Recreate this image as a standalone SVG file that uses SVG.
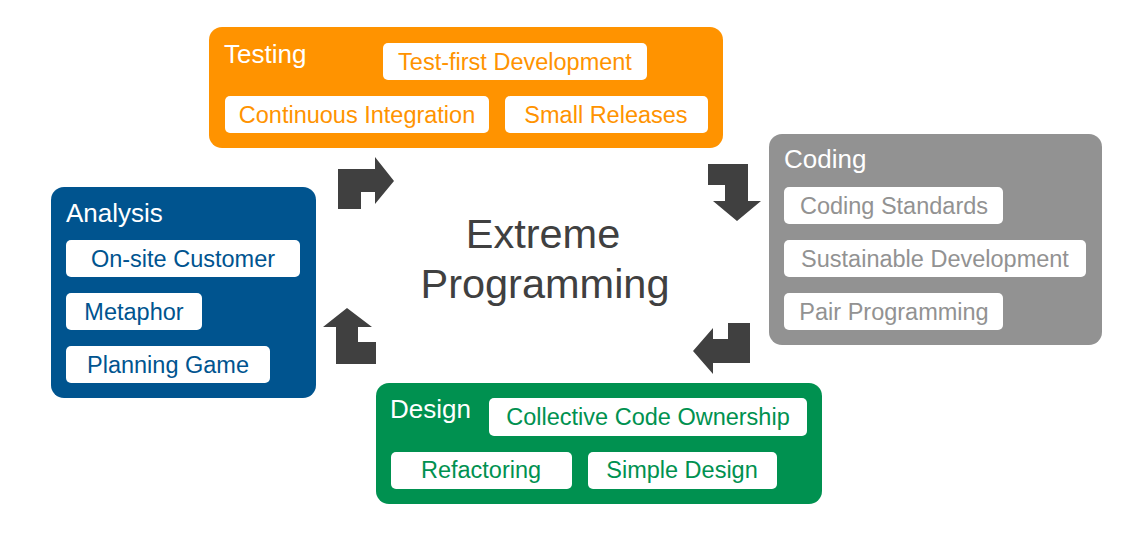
<svg xmlns="http://www.w3.org/2000/svg" width="1145" height="550" viewBox="0 0 1145 550">
<style>
text{font-family:"Liberation Sans",Arial,sans-serif}
.pill{fill:#ffffff}
.title{fill:#ffffff;font-size:26px}
.item{font-size:23.5px;text-anchor:middle}
.arrow{fill:#404040}
.center{fill:#404040;font-size:41.5px;text-anchor:middle}
</style>
<rect width="1145" height="550" fill="#ffffff"/>
<g id="testing">
<rect x="209" y="27" width="514" height="121" rx="13" fill="#ff9300"/>
<text class="title" x="224" y="63">Testing</text>
<rect class="pill" x="383" y="43" width="264" height="37" rx="5"/>
<text class="item" x="515" y="70" fill="#ff9300">Test-first Development</text>
<rect class="pill" x="225" y="96" width="264" height="37" rx="5"/>
<text class="item" x="357" y="123" fill="#ff9300">Continuous Integration</text>
<rect class="pill" x="505" y="96" width="203" height="37" rx="5"/>
<text class="item" x="606" y="123" fill="#ff9300">Small Releases</text>
</g>
<g id="coding">
<rect x="769" y="134" width="333" height="211" rx="13" fill="#929292"/>
<text class="title" x="784" y="168">Coding</text>
<rect class="pill" x="784" y="187" width="219" height="37" rx="5"/>
<text class="item" x="894" y="214" fill="#929292">Coding Standards</text>
<rect class="pill" x="784" y="240" width="302" height="37" rx="5"/>
<text class="item" x="935" y="267" fill="#929292">Sustainable Development</text>
<rect class="pill" x="784" y="293" width="219" height="37" rx="5"/>
<text class="item" x="894" y="320" fill="#929292">Pair Programming</text>
</g>
<g id="design">
<rect x="376" y="383" width="446" height="121" rx="13" fill="#009150"/>
<text class="title" x="390" y="418">Design</text>
<rect class="pill" x="489" y="398" width="318" height="38" rx="5"/>
<text class="item" x="648" y="425" fill="#009150">Collective Code Ownership</text>
<rect class="pill" x="391" y="452" width="181" height="37" rx="5"/>
<text class="item" x="481" y="478" fill="#009150">Refactoring</text>
<rect class="pill" x="588" y="452" width="189" height="37" rx="5"/>
<text class="item" x="682" y="478" fill="#009150">Simple Design</text>
</g>
<g id="analysis">
<rect x="51" y="187" width="265" height="211" rx="13" fill="#00548f"/>
<text class="title" x="66" y="222">Analysis</text>
<rect class="pill" x="66" y="240" width="234" height="37" rx="5"/>
<text class="item" x="183" y="267" fill="#00548f">On-site Customer</text>
<rect class="pill" x="66" y="293" width="136" height="37" rx="5"/>
<text class="item" x="134" y="320" fill="#00548f">Metaphor</text>
<rect class="pill" x="66" y="346" width="204" height="37" rx="5"/>
<text class="item" x="168" y="373" fill="#00548f">Planning Game</text>
</g>
<g id="center">
<text class="center" x="543" y="248">Extreme</text>
<text class="center" x="545" y="298">Programming</text>
</g>
<g id="connectors">
<path class="arrow" d="M338,169 H375 V157 L394,181 L375,204 V192 H361 V209 H338 Z"/>
<path class="arrow" d="M708,164 H748 V201 H761 L737,221 L713,201 H725 V185 H708 Z"/>
<path class="arrow" d="M750,323 V363 H713 V374 L693,351 L713,328 V339 H728 V323 Z"/>
<path class="arrow" d="M347,308 L372,327 H358 V342 H376 V364 H336 V327 H323 Z"/>
</g>
</svg>
